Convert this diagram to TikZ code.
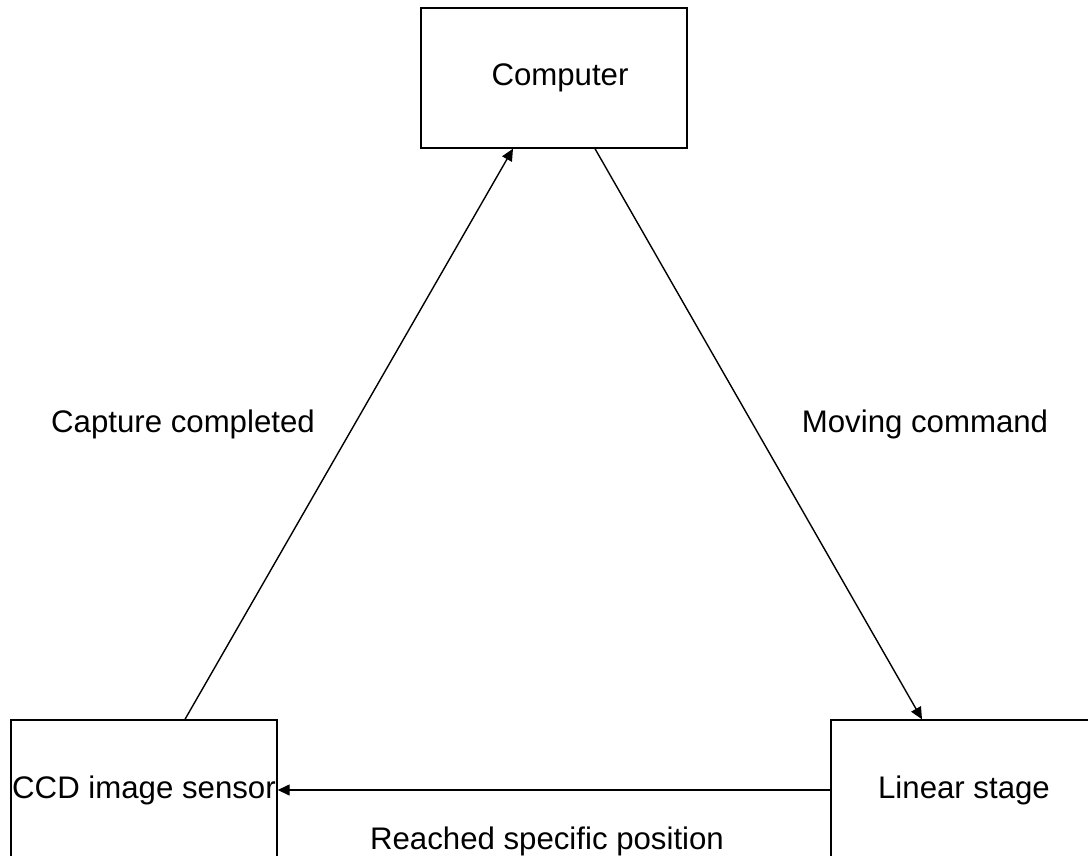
\documentclass[tikz,border=0pt]{standalone}
\usepackage{fontspec}
\setmainfont{Liberation Sans}
\usepackage{tikz}
\usetikzlibrary{arrows.meta,positioning}

\begin{document}
\begin{tikzpicture}[x=0.5pt, y=-0.5pt,
	box/.style={draw, line width=0.7pt, minimum width=133pt, minimum height=70pt,
		inner sep=0pt, align=center, font=\fontsize{15.6}{18}\selectfont},
	lbl/.style={font=\fontsize{15.6}{18}\selectfont},
	arr/.style={-{Triangle[length=6pt, width=5.5pt]}, line width=0.7pt}
]
	\clip (0, 0) rectangle (1088, 856);

	% Blocks
	\node[box] (comp) at (554, 78) {\hspace*{6pt}Computer};
	\node[box] (ccd) at (144, 790) {CCD image sensor};
	\node[box] (stage) at (964, 790) {Linear stage};

	% Signals
	\draw[arr] ([xshift=20.5pt]ccd.north) -- ([xshift=-20.5pt]comp.south);
	\draw[arr] ([xshift=20.5pt]comp.south) -- ([xshift=-21pt]stage.north);
	\draw[arr] (stage.west) -- (ccd.east);

	% Labels
	\node[lbl] (capt) at (183, 424) {Capture completed};
	\node[lbl] (move) at (925, 424) {Moving command};
	\node[lbl] (reach) at (547, 841) {Reached specific position};
\end{tikzpicture}
\end{document}
